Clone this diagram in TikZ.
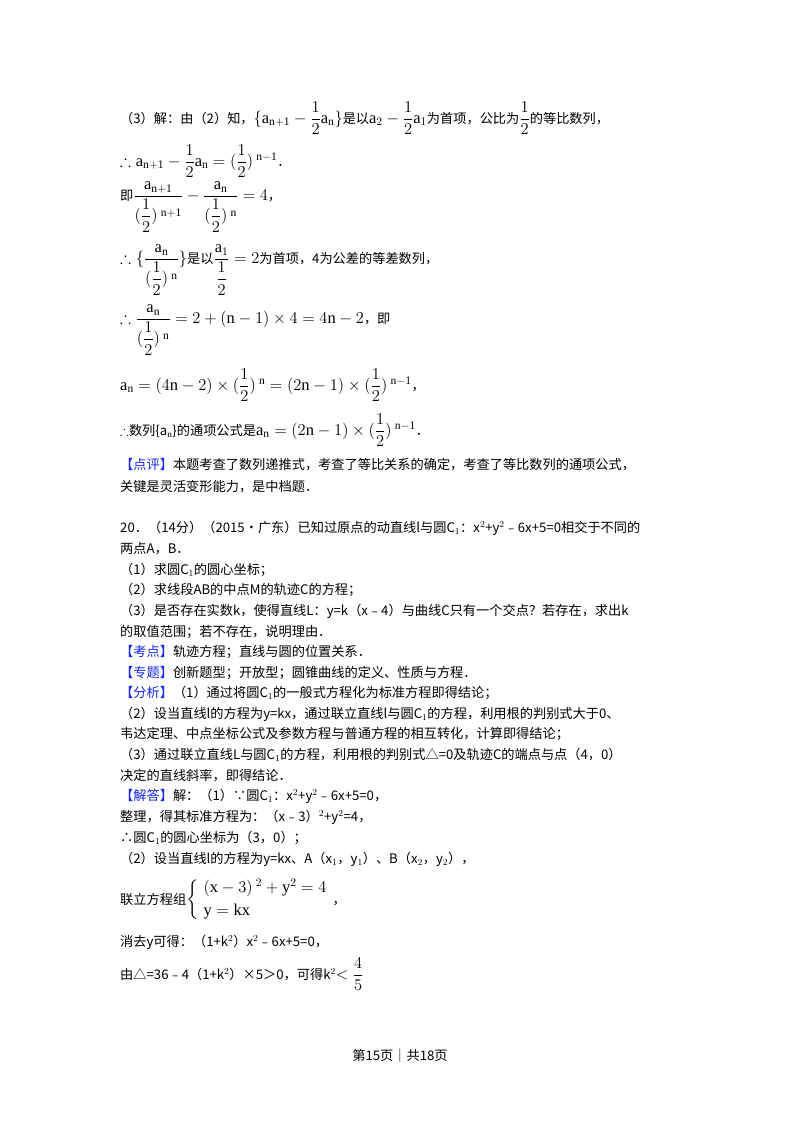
\RequirePackage{fix-cm}
\documentclass[tikz,border=0pt]{standalone}
\usepackage{amsmath,amssymb}
\usepackage{fontspec}
\setmainfont{Noto Sans CJK SC}
\setmathrm{Liberation Serif}
\definecolor{kb}{RGB}{20,40,230}
\newcommand{\hf}{\dfrac{1}{2}}
\newcommand{\M}[1]{{\fontsize{16.5}{19}\selectfont$#1$}}
\begin{document}
\begin{tikzpicture}[x=1pt,y=-1pt,
  t/.style={anchor=west,inner sep=0pt,font=\fontsize{13.2}{15}\selectfont}]
\useasboundingbox (0,0) rectangle (800,1132);
\fill[white] (0,0) rectangle (800,1132);
\node[t] (l1) at (120,118) {（3）解：由（2）知，\M{\{\mathrm{a}_{\mathrm{n+1}}-\hf\mathrm{a}_\mathrm{n}\}}是以\M{\mathrm{a}_2-\hf\mathrm{a}_1}为首项，公比为\M{\hf}的等比数列，};
\node[t] (l2) at (120,161) {\M{\therefore \mathrm{a}_{\mathrm{n+1}}-\hf\mathrm{a}_\mathrm{n}=(\hf)^{\;\mathrm{n-1}}}．};
\node[t] (l3) at (120,207) {即\M{\dfrac{\mathrm{a}_{\mathrm{n+1}}}{(\hf)^{\;\mathrm{n+1}}}-\dfrac{\mathrm{a}_\mathrm{n}}{(\hf)^{\;\mathrm{n}}}=4}，};
\node[t] (l4) at (120,270) {\M{\therefore\{\dfrac{\mathrm{a}_\mathrm{n}}{(\hf)^{\;\mathrm{n}}}\}}是以\M{\dfrac{\mathrm{a}_1}{\hf}=2}为首项，4为公差的等差数列，};
\node[t] (l5) at (120,330) {\M{\therefore\dfrac{\mathrm{a}_\mathrm{n}}{(\hf)^{\;\mathrm{n}}}=2+(\mathrm{n}-1)\times4=4\mathrm{n}-2}，即};
\node[t] (l6) at (120,385) {\M{\mathrm{a}_\mathrm{n}=(4\mathrm{n}-2)\times(\hf)^{\;\mathrm{n}}=(2\mathrm{n}-1)\times(\hf)^{\;\mathrm{n-1}}}，};
\node[t] (l7) at (120,430) {$\therefore$数列\{a$_\mathrm{n}$\}的通项公式是\M{\mathrm{a}_\mathrm{n}=(2\mathrm{n}-1)\times(\hf)^{\;\mathrm{n-1}}}．};
\node[t] (l8) at (120,465) {\textcolor{kb}{【点评】}本题考查了数列递推式，考查了等比关系的确定，考查了等比数列的通项公式，};
\node[t] (l9) at (120,487) {关键是灵活变形能力，是中档题．};
\node[t] (l10) at (120,528) {20．（14分）（2015•广东）已知过原点的动直线l与圆C$_1$：x$^2$+y$^2$﹣6x+5=0相交于不同的};
\node[t] (l11) at (120,549) {两点A，B．};
\node[t] (l12) at (120,570) {（1）求圆C$_1$的圆心坐标；};
\node[t] (l13) at (120,590) {（2）求线段AB的中点M的轨迹C的方程；};
\node[t] (l14) at (120,611) {（3）是否存在实数k，使得直线L：y=k（x﹣4）与曲线C只有一个交点？若存在，求出k};
\node[t] (l15) at (120,632) {的取值范围；若不存在，说明理由．};
\node[t] (l16) at (120,652) {\textcolor{kb}{【考点】}轨迹方程；直线与圆的位置关系．};
\node[t] (l17) at (120,673) {\textcolor{kb}{【专题】}创新题型；开放型；圆锥曲线的定义、性质与方程．};
\node[t] (l18) at (120,693) {\textcolor{kb}{【分析】}（1）通过将圆C$_1$的一般式方程化为标准方程即得结论；};
\node[t] (l19) at (120,714) {（2）设当直线l的方程为y=kx，通过联立直线l与圆C$_1$的方程，利用根的判别式大于0、};
\node[t] (l20) at (120,734) {韦达定理、中点坐标公式及参数方程与普通方程的相互转化，计算即得结论；};
\node[t] (l21) at (120,755) {（3）通过联立直线L与圆C$_1$的方程，利用根的判别式△=0及轨迹C的端点与点（4，0）};
\node[t] (l22) at (120,776) {决定的直线斜率，即得结论．};
\node[t] (l23) at (120,796) {\textcolor{kb}{【解答】}解：（1）∵圆C$_1$：x$^2$+y$^2$﹣6x+5=0，};
\node[t] (l24) at (120,817) {整理，得其标准方程为：（x﹣3）$^2$+y$^2$=4，};
\node[t] (l25) at (120,838) {∴圆C$_1$的圆心坐标为（3，0）；};
\node[t] (l26) at (120,859) {（2）设当直线l的方程为y=kx、A（x$_1$，y$_1$）、B（x$_2$，y$_2$），};
\node[t] (l27) at (120,900) {联立方程组\M{\left\{\begin{array}{l}(\mathrm{x}-3)^{\;2}+\mathrm{y}^2=4\\[4pt] \mathrm{y}=\mathrm{kx}\end{array}\right.}，};
\node[t] (l28) at (120,942) {消去y可得：（1+k$^2$）x$^2$﹣6x+5=0，};
\node[t] (l29) at (120,974) {由△=36﹣4（1+k$^2$）×5＞0，可得k$^2$\M{<\dfrac45}};
\node[t] (ft) at (400,1055) [anchor=center] {第15页｜共18页};
\end{tikzpicture}
\end{document}
